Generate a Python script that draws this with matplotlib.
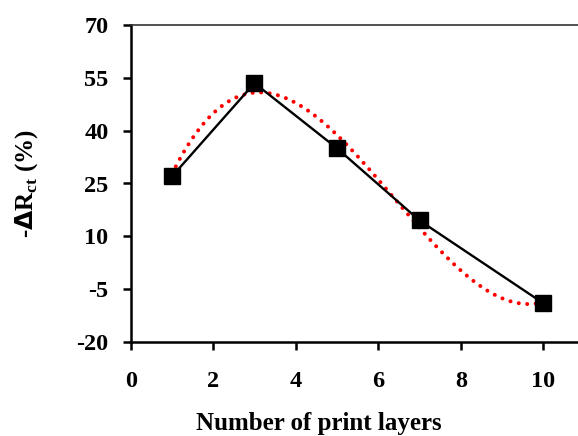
import numpy as np
import matplotlib
matplotlib.use("Agg")
import matplotlib.pyplot as plt

layers = [1, 3, 5, 7, 10]
delta_rct = [27.0, 53.5, 35.0, 14.5, -9.0]
x_ticks = [0, 2, 4, 6, 8, 10]
y_ticks = [-20, -5, 10, 25, 40, 55, 70]

plt.rcParams['font.family'] = ['Liberation Serif', 'DejaVu Serif']
plt.rcParams['font.weight'] = 'bold'

fig = plt.figure(figsize=(5.78, 4.36), dpi=100)
ppx = 41.26 / 578
ax = fig.add_axes([130.7 / 578, 94 / 436, 11.5 * ppx, 317 / 436])

# cubic trendline fitted to the data
coef = np.polyfit(layers, delta_rct, 3)
xf = np.linspace(min(layers), max(layers), 200)
yf = np.polyval(coef, xf)
ax.plot(xf, yf, color='#ff0000', lw=2.9, linestyle=(0, (0.01, 2.1)),
        dash_capstyle='round', zorder=2)

ax.plot(layers, delta_rct, color='black', lw=1.7, marker='s', markersize=11.5,
        markerfacecolor='black', markeredgecolor='black', zorder=3)

ax.set_xlim(0, 11.5)
ax.set_ylim(-20, 70)
ax.set_xticks(x_ticks)
ax.set_yticks(y_ticks)
ax.set_yticklabels([str(v) for v in y_ticks])
ax.tick_params(axis='both', direction='out', length=6, width=1.8,
               labelsize=17.5)
ax.tick_params(axis='y', pad=10)
ax.tick_params(axis='x', pad=15)

ax.spines['left'].set_linewidth(1.8)
ax.spines['bottom'].set_linewidth(1.8)
ax.spines['top'].set_linewidth(1.2)
ax.spines['top'].set_color('#333333')
ax.spines['right'].set_visible(False)

ax.set_xlabel('Number of print layers', fontsize=18, fontweight='bold')
ax.xaxis.set_label_coords(0.397, -0.222)
ax.set_ylabel(r'-$\Delta$R$_{\mathregular{ct}}$ (%)', fontsize=18, fontweight='bold', labelpad=26)

fig.savefig('out.png', dpi=100)
